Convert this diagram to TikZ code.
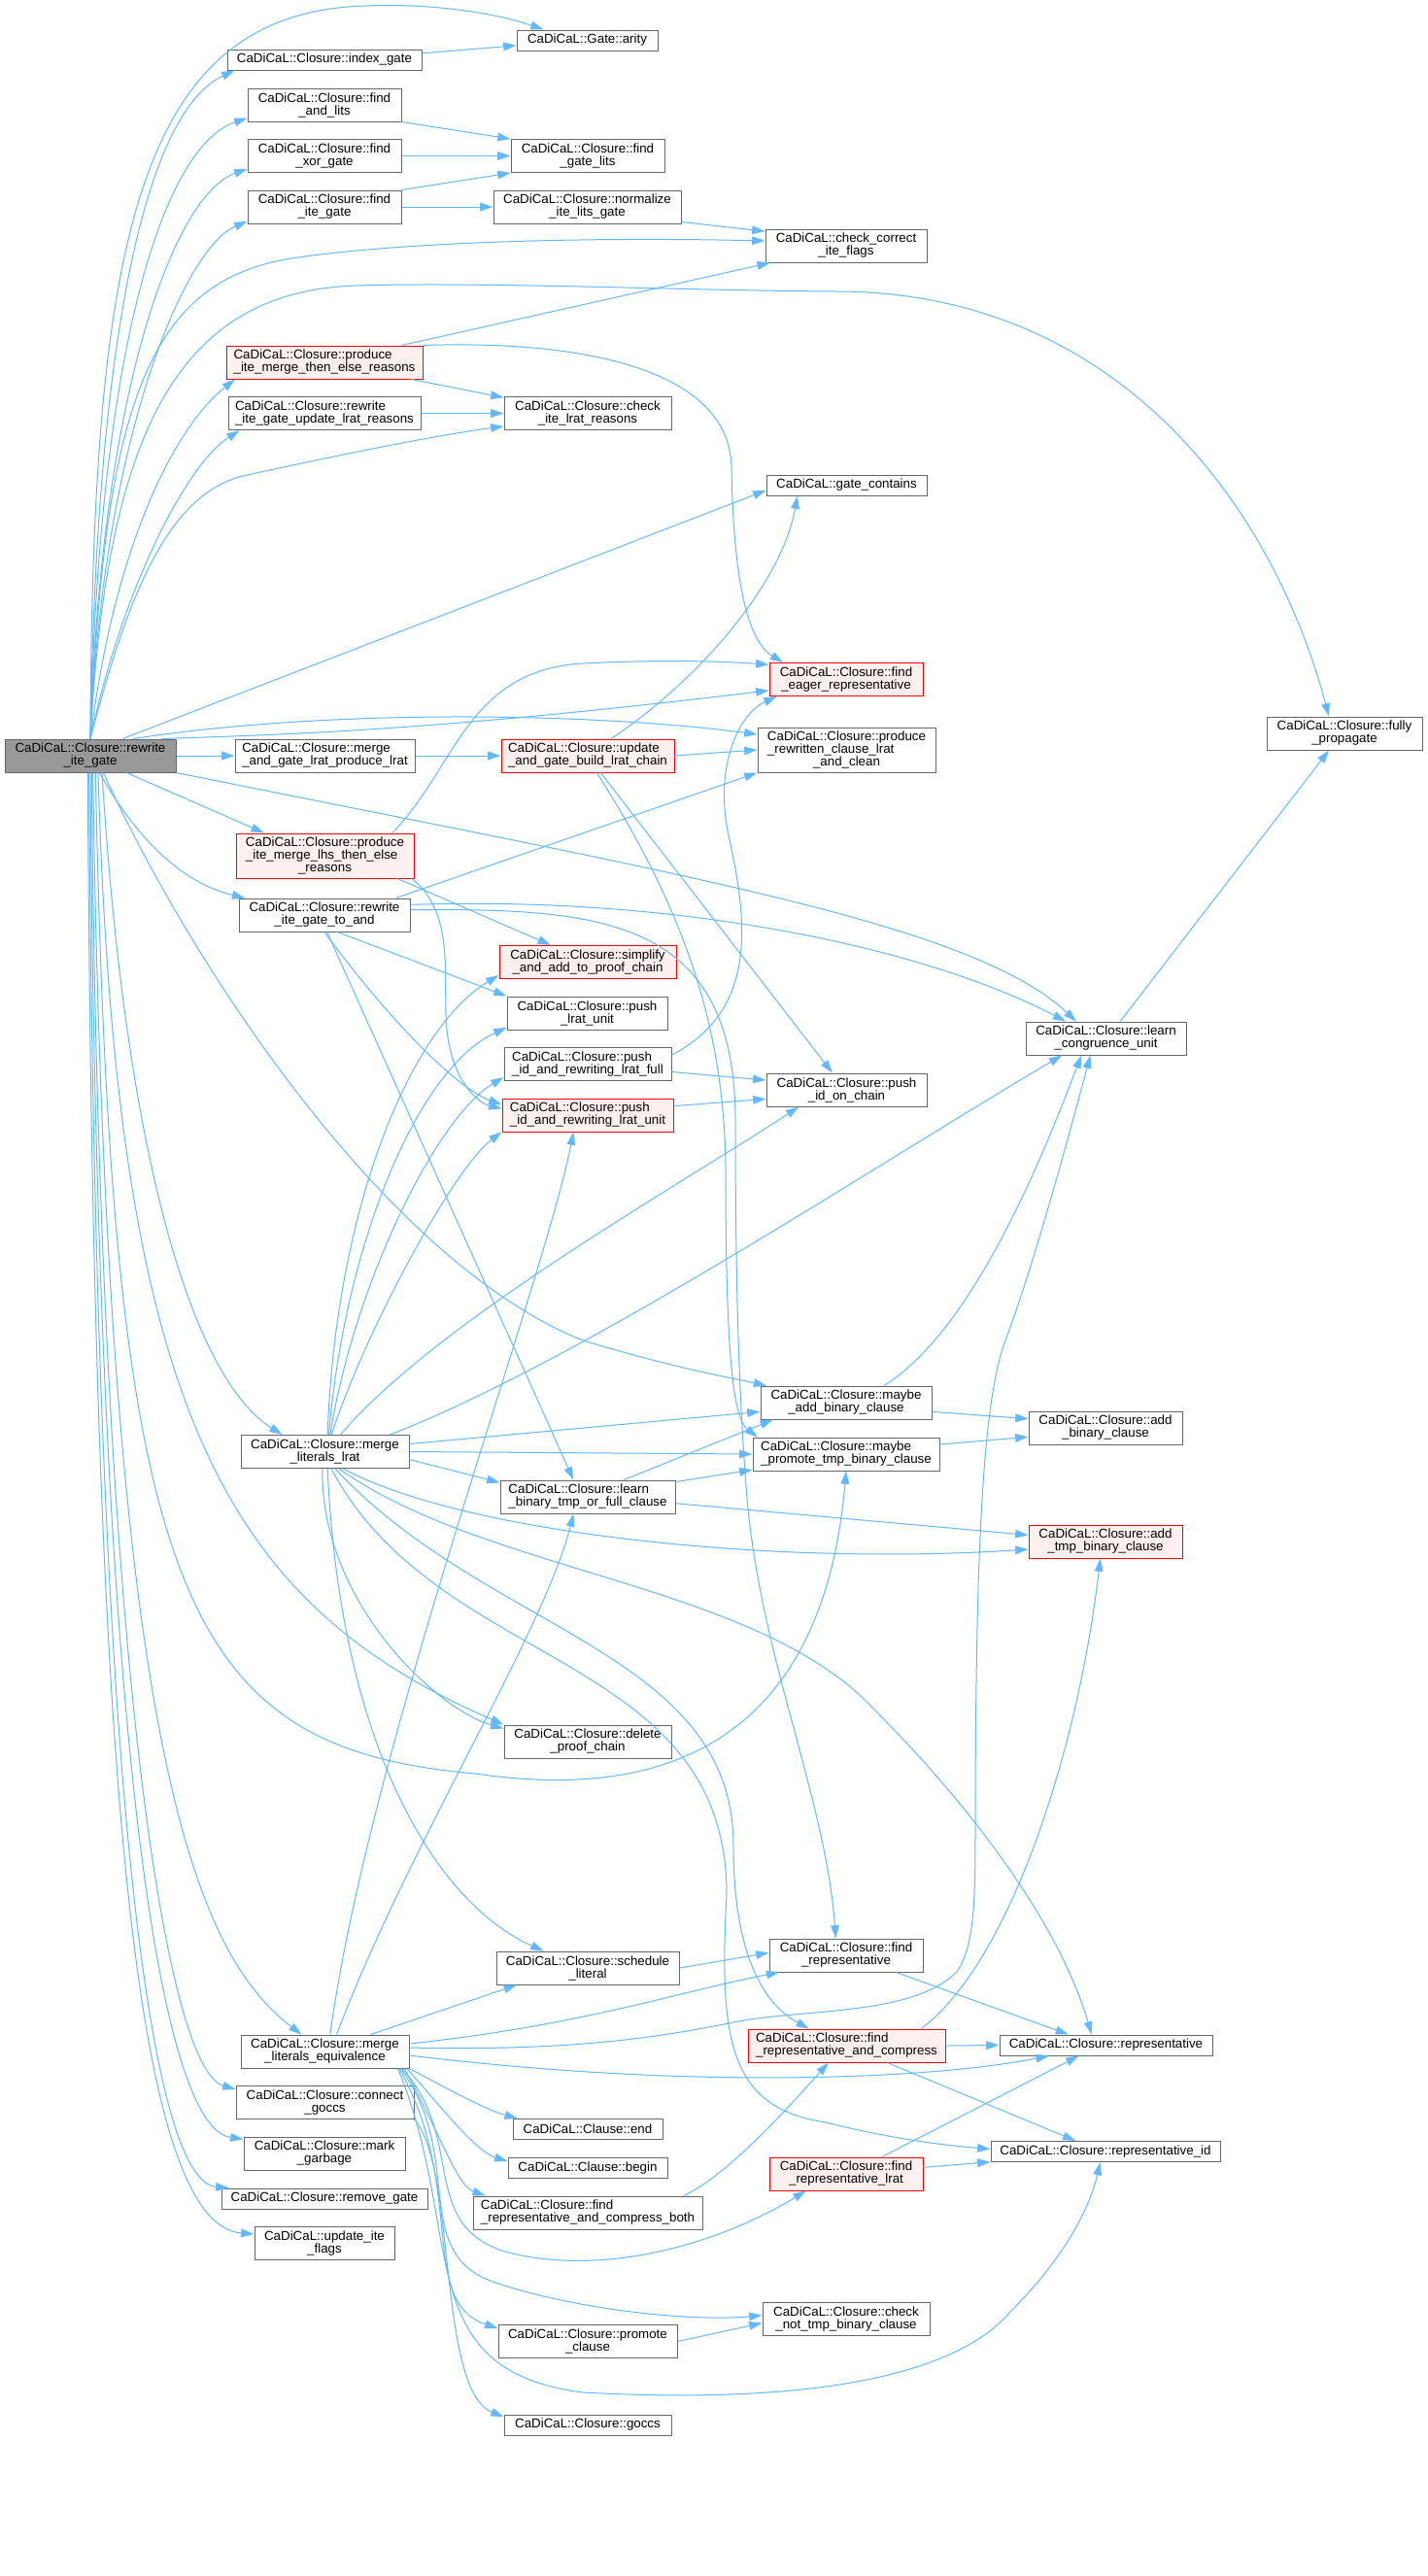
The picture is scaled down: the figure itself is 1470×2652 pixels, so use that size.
\documentclass[tikz,border=0pt]{standalone}
\usepackage{fontspec}
\setmainfont{Liberation Sans}
\usetikzlibrary{arrows.meta}
\definecolor{edgeblue}{HTML}{63B8FF}
\definecolor{nodegray}{HTML}{666666}
\definecolor{rootfill}{HTML}{999999}
\definecolor{redfill}{HTML}{FFF0F0}
\newlength\tlwa \newlength\tlwb \newlength\tlwc
\newcommand\twol[2]{\settowidth\tlwa{#1}\settowidth\tlwb{#2}\ifdim\tlwb>\tlwa\tlwa=\tlwb\fi\makebox[\tlwa][l]{#1}\\#2}
\newcommand\threel[3]{\settowidth\tlwa{#1}\settowidth\tlwb{#2}\settowidth\tlwc{#3}\ifdim\tlwb>\tlwa\tlwa=\tlwb\fi\ifdim\tlwc>\tlwa\tlwa=\tlwc\fi\global\tlwa=\tlwa\makebox[\tlwa][l]{#1}\\\makebox[\tlwa][l]{#2}\\#3}
\begin{document}
\begin{tikzpicture}[x=0.75pt,y=-0.75pt,
  nd/.style={draw=nodegray, fill=white, line width=0.75pt, inner sep=0pt, align=center, font=\fontsize{10}{9.75}\selectfont},
  rd/.style={nd, draw=red, fill=redfill},
  rt/.style={nd, fill=rootfill},
  one/.style={minimum height=15.75pt},
  two/.style={minimum height=25.5pt},
  three/.style={minimum height=34.5pt},
  e/.style={draw=edgeblue, line width=0.75pt, -{Triangle[length=10pt,width=6.5pt]}}
]
\fill[white] (0,0) rectangle (1470,2652);
\useasboundingbox (0,0) rectangle (1470,2652);

% ---------- nodes ----------
\node[rt,two,minimum width=132pt] (R) at (93,778) {\twol{CaDiCaL::Closure::rewrite}{\_ite\_gate}};
\node[nd,one,minimum width=150pt] (IG) at (334,61.5) {CaDiCaL::Closure::index\_gate};
\node[nd,one,minimum width=108.75pt] (AR) at (604.5,41.5) {CaDiCaL::Gate::arity};
\node[nd,two,minimum width=118.5pt] (FAL) at (334,108) {\twol{CaDiCaL::Closure::find}{\_and\_lits}};
\node[nd,two,minimum width=118.5pt] (FXG) at (334,160.5) {\twol{CaDiCaL::Closure::find}{\_xor\_gate}};
\node[nd,two,minimum width=118.5pt] (FIG) at (334,213) {\twol{CaDiCaL::Closure::find}{\_ite\_gate}};
\node[nd,two,minimum width=118.5pt] (FGL) at (605,160.5) {\twol{CaDiCaL::Closure::find}{\_gate\_lits}};
\node[nd,two,minimum width=144.75pt] (NILG) at (604.5,213) {\twol{CaDiCaL::Closure::normalize}{\_ite\_lits\_gate}};
\node[nd,two,minimum width=124.5pt] (CCIF) at (871,253) {\twol{CaDiCaL::check\_correct}{\_ite\_flags}};
\node[rd,two,minimum width=151.5pt] (PIMTE) at (334,373) {\twol{CaDiCaL::Closure::produce}{\_ite\_merge\_then\_else\_reasons}};
\node[nd,two,minimum width=148.5pt] (RIGU) at (334,425.5) {\twol{CaDiCaL::Closure::rewrite}{\_ite\_gate\_update\_lrat\_reasons}};
\node[nd,two,minimum width=129pt] (CILR) at (605,425.5) {\twol{CaDiCaL::Closure::check}{\_ite\_lrat\_reasons}};
\node[nd,one,minimum width=123.75pt] (GC) at (871.5,499.5) {CaDiCaL::gate\_contains};
\node[rd,two,minimum width=118.5pt] (FER) at (871,699.5) {\twol{CaDiCaL::Closure::find}{\_eager\_representative}};
\node[nd,two,minimum width=120pt] (FP) at (1384,755) {\twol{CaDiCaL::Closure::fully}{\_propagate}};
\node[nd,two,minimum width=138.75pt] (MAG) at (334.5,778) {\twol{CaDiCaL::Closure::merge}{\_and\_gate\_lrat\_produce\_lrat}};
\node[rd,two,minimum width=133.5pt] (UAG) at (605,778) {\twol{CaDiCaL::Closure::update}{\_and\_gate\_build\_lrat\_chain}};
\node[nd,three,minimum width=137.25pt] (PRCL) at (871.5,772) {\threel{CaDiCaL::Closure::produce}{\_rewritten\_clause\_lrat}{\_and\_clean}};
\node[rd,three,minimum width=137.25pt] (PIML) at (334.5,881) {\threel{CaDiCaL::Closure::produce}{\_ite\_merge\_lhs\_then\_else}{\_reasons}};
\node[nd,two,minimum width=132pt] (RIGA) at (334,942) {\twol{CaDiCaL::Closure::rewrite}{\_ite\_gate\_to\_and}};
\node[rd,two,minimum width=136.5pt] (SAPC) at (605,990.5) {\twol{CaDiCaL::Closure::simplify}{\_and\_add\_to\_proof\_chain}};
\node[nd,two,minimum width=123.75pt] (PLU) at (604.5,1043) {\twol{CaDiCaL::Closure::push}{\_lrat\_unit}};
\node[nd,two,minimum width=129pt] (PIRF) at (605,1095.5) {\twol{CaDiCaL::Closure::push}{\_id\_and\_rewriting\_lrat\_full}};
\node[rd,two,minimum width=132pt] (PIRU) at (605,1148) {\twol{CaDiCaL::Closure::push}{\_id\_and\_rewriting\_lrat\_unit}};
\node[nd,two,minimum width=123.75pt] (PIOC) at (871.5,1122) {\twol{CaDiCaL::Closure::push}{\_id\_on\_chain}};
\node[nd,two,minimum width=123.75pt] (LCU) at (1138.5,1069) {\twol{CaDiCaL::Closure::learn}{\_congruence\_unit}};
\node[nd,two,minimum width=129.75pt] (MLL) at (334.5,1494.5) {\twol{CaDiCaL::Closure::merge}{\_literals\_lrat}};
\node[nd,two,minimum width=132pt] (MABC) at (871,1444) {\twol{CaDiCaL::Closure::maybe}{\_add\_binary\_clause}};
\node[nd,two,minimum width=144pt] (MPTB) at (871,1497) {\twol{CaDiCaL::Closure::maybe}{\_promote\_tmp\_binary\_clause}};
\node[nd,two,minimum width=118.5pt] (ABC) at (1138,1470) {\twol{CaDiCaL::Closure::add}{\_binary\_clause}};
\node[nd,two,minimum width=135pt] (LBT) at (605,1541) {\twol{CaDiCaL::Closure::learn}{\_binary\_tmp\_or\_full\_clause}};
\node[rd,two,minimum width=118.5pt] (ATBC) at (1138,1587) {\twol{CaDiCaL::Closure::add}{\_tmp\_binary\_clause}};
\node[nd,two,minimum width=129pt] (DPC) at (605,1793) {\twol{CaDiCaL::Closure::delete}{\_proof\_chain}};
\node[nd,two,minimum width=141pt] (SL) at (605,2026) {\twol{CaDiCaL::Closure::schedule}{\_literal}};
\node[nd,two,minimum width=118.5pt] (FR) at (871,2013) {\twol{CaDiCaL::Closure::find}{\_representative}};
\node[nd,two,minimum width=129.75pt] (MLE) at (334.5,2112) {\twol{CaDiCaL::Closure::merge}{\_literals\_equivalence}};
\node[rd,two,minimum width=152.25pt] (FRC) at (871.5,2106) {\twol{CaDiCaL::Closure::find}{\_representative\_and\_compress}};
\node[nd,one,minimum width=164.25pt] (REP) at (1138.5,2105.5) {CaDiCaL::Closure::representative};
\node[nd,two,minimum width=137.25pt] (CG) at (334.5,2164.5) {\twol{CaDiCaL::Closure::connect}{\_goccs}};
\node[nd,one,minimum width=115.5pt] (CE) at (605,2192) {CaDiCaL::Clause::end};
\node[nd,two,minimum width=124.5pt] (MG) at (334,2217) {\twol{CaDiCaL::Closure::mark}{\_garbage}};
\node[nd,one,minimum width=123pt] (CB) at (605,2232) {CaDiCaL::Clause::begin};
\node[rd,two,minimum width=118.5pt] (FRL) at (871,2238) {\twol{CaDiCaL::Closure::find}{\_representative\_lrat}};
\node[nd,one,minimum width=177pt] (RID) at (1138,2215) {CaDiCaL::Closure::representative\_id};
\node[nd,one,minimum width=159pt] (RG) at (334,2263.5) {CaDiCaL::Closure::remove\_gate};
\node[nd,two,minimum width=177pt] (FRCB) at (605,2278) {\twol{CaDiCaL::Closure::find}{\_representative\_and\_compress\_both}};
\node[nd,two,minimum width=108pt] (UIF) at (334,2309.5) {\twol{CaDiCaL::update\_ite}{\_flags}};
\node[nd,two,minimum width=129pt] (CNTB) at (871,2387.5) {\twol{CaDiCaL::Closure::check}{\_not\_tmp\_binary\_clause}};
\node[nd,two,minimum width=138pt] (PC) at (605,2410.5) {\twol{CaDiCaL::Closure::promote}{\_clause}};
\node[nd,one,minimum width=129pt] (GO) at (605,2496.5) {CaDiCaL::Closure::goccs};

% ---------- edges from root, upward fan ----------
\draw[e] (R.north) .. controls (95,250) and (140,12) .. (377,6) .. controls (450,3) and (515,15) .. ([xshift=21pt]AR.north west);
\draw[e] (R.north) .. controls (100,300) and (160,110) .. ([xshift=6pt]IG.south west);
\draw[e] (R.north) .. controls (102,350) and (170,150) .. ([yshift=3pt]FAL.south west);
\draw[e] (R.north) .. controls (104,400) and (180,200) .. ([yshift=3pt]FXG.south west);
\draw[e] (R.north) .. controls (106,450) and (190,255) .. ([yshift=2pt]FIG.south west);
\draw[e] (R.north) .. controls (108,420) and (150,290) .. (300,266) .. controls (420,248) and (620,244) .. ([yshift=3.75pt]CCIF.west);
\draw[e] (R.north) .. controls (110,450) and (180,300) .. (367,294) .. controls (500,290) and (700,299) .. (860,300) .. controls (1150,300) and (1310,520) .. ([xshift=-12pt]FP.north);
\draw[e] (R.north) .. controls (118,560) and (180,440) .. ([xshift=7pt]PIMTE.south west);
\draw[e] (R.north) .. controls (125,610) and (190,480) .. ([xshift=9pt]RIGU.south west);
\draw[e] (R.north) .. controls (130,620) and (170,510) .. (250,490) .. controls (350,468) and (450,448) .. ([yshift=-10pt]CILR.west);

% ---------- edges from root, right ----------
\draw[e] ([xshift=25pt]R.north) -- ([yshift=-4pt]GC.west);
\draw[e] ([xshift=33pt]R.north) .. controls (350,728) and (620,735) .. ([yshift=12pt]PRCL.west);
\draw[e] ([xshift=55pt]R.north) .. controls (300,756) and (450,752) .. ([yshift=-8.5pt]FER.west);
\draw[e] (R.east) -- (MAG.west);
\draw[e] ([xshift=28pt]R.south) -- ([xshift=-47pt]PIML.north);
\draw[e] ([xshift=7pt]R.south) .. controls (150,880) and (200,912) .. ([xshift=5pt]RIGA.north west);
\draw[e] (R.south east) .. controls (700,900) and (1000,950) .. ([xshift=-23pt]LCU.north);
\draw[e] ([xshift=10pt]R.south) .. controls (200,1000) and (400,1300) .. (600,1380) .. controls (700,1410) and (760,1420) .. ([xshift=5pt]MABC.north west);

% ---------- edges from root, downward fan ----------
\draw[e] ([xshift=9pt]R.south) .. controls (130,1200) and (200,1420) .. ([xshift=-33pt]MLL.north);
\draw[e] ([xshift=6pt]R.south) .. controls (120,1450) and (230,1650) .. (DPC.north west);
\draw[e] ([xshift=4pt]R.south) .. controls (115,1650) and (190,1800) .. (490,1826) .. controls (720,1860) and (850,1760) .. (MPTB.south);
\draw[e] ([xshift=2pt]R.south) .. controls (110,1800) and (200,2010) .. ([xshift=-18pt]MLE.north);
\draw[e] ([xshift=1pt]R.south) .. controls (102,1700) and (170,2130) .. ([yshift=-3pt]CG.north west);
\draw[e] (R.south) .. controls (100,1750) and (160,2190) .. ([yshift=-2pt]MG.north west);
\draw[e] ([xshift=-1pt]R.south) .. controls (98,1800) and (150,2245) .. ([xshift=6pt]RG.north west);
\draw[e] ([xshift=-2pt]R.south) .. controls (96,1850) and (140,2290) .. ([yshift=-6pt]UIF.north west);

% ---------- top cluster ----------
\draw[e] ([yshift=5pt]IG.east) -- ([yshift=-4pt]AR.west);
\draw[e] (FAL.south east) -- (FGL.north west);
\draw[e] (FXG.east) -- (FGL.west);
\draw[e] (FIG.north east) -- (FGL.south west);
\draw[e] (FIG.east) -- (NILG.west);
\draw[e] ([yshift=1.5pt]NILG.south east) -- ([yshift=-2pt]CCIF.north west);
\draw[e] ([xshift=-16.5pt]PIMTE.north east) -- ([xshift=4pt]CCIF.south west);
\draw[e] ([xshift=-9pt]PIMTE.south east) -- ([yshift=-1pt]CILR.north west);
\draw[e] (RIGU.east) -- (CILR.west);
\draw[e] (PIMTE.north east) .. controls (600,350) and (750,380) .. (753,480) .. controls (755,600) and (770,660) .. ([xshift=11pt]FER.north west);

% ---------- middle ----------
\draw[e] (MAG.east) -- (UAG.west);
\draw[e] ([xshift=18pt]UAG.north) .. controls (720,700) and (805,600) .. ([xshift=-38pt]GC.south);
\draw[e] (UAG.east) -- (PRCL.west);
\draw[e] ([xshift=10pt]UAG.south) -- ([xshift=-11pt]PIOC.north);
\draw[e] ([xshift=7pt]UAG.south) .. controls (700,930) and (745,1050) .. (747,1200) .. controls (747,1400) and (755,1460) .. ([xshift=4pt]MPTB.north west);

\draw[e] ([xshift=-11pt]RIGA.north east) -- (PRCL.south west);
\draw[e] ([yshift=8pt]RIGA.east) .. controls (700,922) and (950,975) .. ([xshift=-31pt]LCU.north);
\draw[e] ([yshift=4pt]RIGA.east) .. controls (620,935) and (755,945) .. (757,1150) .. controls (757,1350) and (762,1450) .. (768,1530) .. controls (780,1700) and (850,1850) .. ([xshift=-8pt]FR.north);
\draw[e] ([xshift=10pt]RIGA.south) -- (PLU.north west);
\draw[e] (RIGA.south) .. controls (400,1050) and (470,1120) .. ([yshift=8pt]PIRU.west);
\draw[e] ([xshift=2pt]RIGA.south) -- ([xshift=-11pt]LBT.north);

\draw[e] ([xshift=-17pt]PIML.north east) .. controls (470,790) and (480,690) .. (600,683) .. controls (700,678) and (760,682) .. ([yshift=11.5pt]FER.west);
\draw[e] ([xshift=-13pt]PIML.south east) -- ([xshift=-28.5pt]SAPC.north);
\draw[e] ([xshift=-2pt]PIML.south east) .. controls (470,940) and (455,1010) .. (460,1060) .. controls (465,1110) and (490,1135) .. ([yshift=5pt]PIRU.west);

\draw[e] ([yshift=7pt]PIRF.east) .. controls (780,1040) and (770,950) .. (750,860) .. controls (735,790) and (760,735) .. ([xshift=6pt]FER.south west);
\draw[e] ([yshift=-6pt]PIRF.east) -- ([yshift=7.5pt]PIOC.west);
\draw[e] ([yshift=7pt]PIRU.east) -- ([yshift=-7pt]PIOC.west);
\draw[e] ([xshift=11pt]LCU.north) -- ([xshift=-12pt]FP.south);

% ---------- merge_literals_lrat ----------
\draw[e] ([xshift=2pt]MLL.north) .. controls (345,1250) and (420,1060) .. ([yshift=3pt]SAPC.south west);
\draw[e] ([xshift=3pt]MLL.north) .. controls (355,1280) and (430,1100) .. ([yshift=2pt]PLU.south west);
\draw[e] ([xshift=4pt]MLL.north) .. controls (365,1320) and (450,1150) .. ([yshift=3pt]PIRF.south west);
\draw[e] ([xshift=5pt]MLL.north) .. controls (380,1360) and (470,1200) .. (PIRU.south west);
\draw[e] ([xshift=12pt]MLL.north) .. controls (450,1360) and (700,1220) .. ([xshift=-37pt]PIOC.south);
\draw[e] ([xshift=-15pt]MLL.north east) .. controls (600,1400) and (900,1200) .. ([xshift=-34pt]LCU.south);
\draw[e] ([yshift=6pt]MLL.east) -- ([yshift=-7pt]MABC.west);
\draw[e] (MLL.east) -- (MPTB.west);
\draw[e] ([yshift=-6pt]MLL.east) -- ([yshift=11pt]LBT.west);
\draw[e] ([xshift=14pt]MLL.south) .. controls (480,1580) and (800,1612) .. ([yshift=-6pt]ATBC.west);
\draw[e] ([xshift=11pt]MLL.south) .. controls (500,1620) and (780,1630) .. (900,1760) .. controls (1000,1860) and (1090,1980) .. ([xshift=-11pt]REP.north);
\draw[e] ([xshift=8pt]MLL.south) .. controls (500,1680) and (755,1700) .. (755,1900) .. controls (755,2000) and (780,2060) .. ([xshift=-29pt]FRC.north);
\draw[e] ([xshift=5pt]MLL.south) .. controls (450,1720) and (748,1700) .. (748,1950) .. controls (740,2100) and (750,2170) .. (850,2185) .. controls (930,2205) and (990,2210) .. ([yshift=2pt]RID.west);
\draw[e] ([xshift=2pt]MLL.south) .. controls (350,1800) and (450,1960) .. ([xshift=-34pt]SL.north);
\draw[e] ([xshift=-2pt]MLL.south) .. controls (330,1650) and (450,1760) .. ([yshift=-3pt]DPC.north west);

% ---------- binary clause cluster ----------
\draw[e] ([xshift=-40pt]LBT.north east) -- ([xshift=10pt]MABC.south west);
\draw[e] ([yshift=-1.5pt]LBT.north east) -- ([yshift=1pt]MPTB.south west);
\draw[e] ([yshift=-5pt]LBT.east) -- ([yshift=5pt]ATBC.west);
\draw[e] ([yshift=-7pt]MABC.east) -- ([yshift=7pt]ABC.west);
\draw[e] ([yshift=7.5pt]MPTB.east) -- ([yshift=-7pt]ABC.west);
\draw[e] ([xshift=-37pt]MABC.north east) .. controls (1000,1370) and (1070,1200) .. ([xshift=-19pt]LCU.south);

% ---------- merge_literals_equivalence ----------
\draw[e] ([xshift=4pt]MLE.north) .. controls (380,1800) and (560,1320) .. ([xshift=-11pt]PIRU.south);
\draw[e] ([xshift=9pt]MLE.north) .. controls (420,1900) and (560,1680) .. ([xshift=-11pt]LBT.south);
\draw[e] ([xshift=-30pt]MLE.north east) -- ([xshift=16pt]SL.south west);
\draw[e] ([yshift=6pt]MLE.east) .. controls (600,2085) and (700,2050) .. ([xshift=8pt]FR.south west);
\draw[e] ([yshift=3pt]MLE.east) .. controls (600,2112) and (690,2095) .. (760,2081) .. controls (830,2068) and (940,2075) .. (985,2030) .. controls (1005,2000) and (1004,1950) .. (1004,1850) .. controls (1005,1650) and (1008,1450) .. (1035,1380) .. controls (1065,1300) and (1100,1170) .. ([xshift=-12pt]LCU.south);
\draw[e] ([yshift=-3pt]MLE.east) .. controls (700,2150) and (950,2142) .. ([xshift=-44pt]REP.south);
\draw[e] (MLE.south east) .. controls (460,2150) and (500,2172) .. ([xshift=4pt]CE.north west);
\draw[e] ([xshift=-2pt]MLE.south east) .. controls (455,2170) and (490,2215) .. ([yshift=-3pt]CB.north west);
\draw[e] ([xshift=-4pt]MLE.south east) .. controls (450,2190) and (470,2250) .. ([xshift=10pt]FRCB.north west);
\draw[e] ([xshift=-6pt]MLE.south east) .. controls (480,2200) and (430,2290) .. (520,2318) .. controls (620,2345) and (740,2310) .. ([xshift=-31pt]FRL.south);
\draw[e] ([xshift=-7pt]MLE.south east) .. controls (480,2220) and (420,2320) .. (510,2350) .. controls (600,2380) and (720,2390) .. ([yshift=3pt]CNTB.west);
\draw[e] ([xshift=-8pt]MLE.south east) .. controls (480,2250) and (430,2370) .. ([yshift=-3pt]PC.north west);
\draw[e] ([xshift=-9pt]MLE.south east) .. controls (480,2300) and (420,2440) .. (600,2463) .. controls (820,2475) and (980,2450) .. (1040,2380) .. controls (1090,2330) and (1120,2280) .. ([xshift=-4pt]RID.south);
\draw[e] (CG.south east) .. controls (470,2230) and (450,2460) .. ([yshift=-2pt]GO.north west);

% ---------- representative cluster ----------
\draw[e] ([xshift=-15pt]FRCB.north east) .. controls (750,2240) and (820,2160) .. ([xshift=-14pt]FRC.south);
\draw[e] (PC.east) -- ([yshift=-3pt]CNTB.west);
\draw[e] (SL.east) -- ([yshift=2pt]FR.west);
\draw[e] ([xshift=-21pt]FR.south east) -- ([xshift=-29pt]REP.north);
\draw[e] (FRC.east) -- (REP.west);
\draw[e] ([xshift=-45pt]FRC.south east) -- ([xshift=-23pt]RID.north);
\draw[e] ([xshift=-19pt]FRC.north east) .. controls (1040,2020) and (1110,1800) .. ([xshift=-4pt]ATBC.south);
\draw[e] ([xshift=-32pt]FRL.north east) -- ([xshift=-21pt]REP.south);
\draw[e] ([yshift=5pt]FRL.east) -- ([yshift=-8pt]RID.west);
\end{tikzpicture}
\end{document}
